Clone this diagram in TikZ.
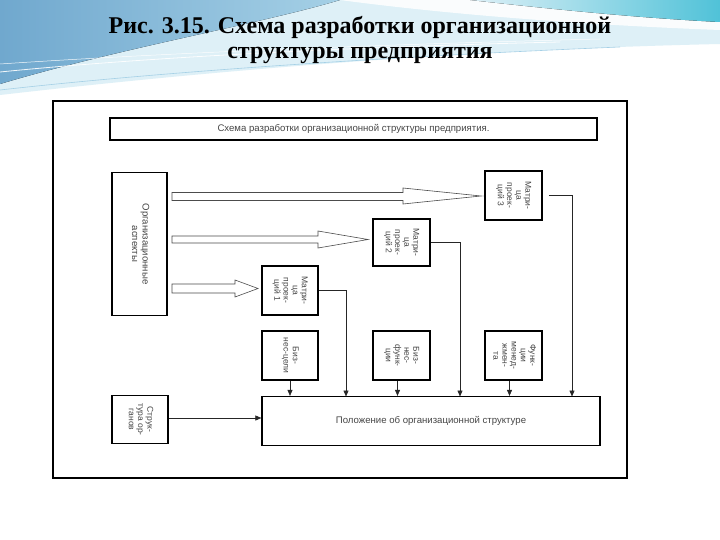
\documentclass[tikz,border=0pt]{standalone}
\usepackage{fontspec}
\usepackage{graphicx}
\setmainfont{Liberation Serif}
\newfontfamily\diagfont{Liberation Sans}
\usetikzlibrary{arrows.meta,calc}
\newcommand{\rottext}[1]{\rotatebox{-90}{\begin{tabular}{@{}c@{}}#1\end{tabular}}}
\definecolor{blueL}{RGB}{112,168,206}
\definecolor{blueM}{RGB}{165,208,230}
\definecolor{paleB}{RGB}{222,240,247}
\definecolor{cyanR}{RGB}{80,194,216}
\definecolor{txt}{RGB}{70,70,70}
\begin{document}
\begin{tikzpicture}[x=1pt,y=-1pt,
  box/.style={draw=black, line width=1.5pt, inner sep=0pt, text=txt,
    font=\diagfont\fontsize{8.5}{9.2}\selectfont},
  conn/.style={draw=black!85, line width=0.6pt},
  tip/.style={-{Triangle[length=6pt,width=5pt]}},
  hollow/.style={draw=black!70, line width=0.6pt, fill=white},
]
\useasboundingbox (0,0) rectangle (720,540);
\fill[white] (0,0) rectangle (720,540);
% slide background swooshes
\fill[paleB] (0,95) .. controls (200,72) and (450,50) .. (720,44) -- (720,0) -- (0,0) -- cycle;
\fill[left color=blueL, right color=blueM] (0,0) -- (340,0) .. controls (260,24) and (120,48) .. (0,84) -- cycle;
\fill[white,opacity=0.85] (340,0) .. controls (430,12) and (560,24) .. (720,30) -- (720,0) -- cycle;
\fill[left color=paleB, right color=cyanR] (470,0) .. controls (560,10) and (640,18) .. (720,22) -- (720,0) -- cycle;
\draw[white,line width=0.8pt,opacity=0.9] (0,72) .. controls (150,57) and (350,47) .. (560,42);
\draw[white,line width=0.5pt,opacity=0.9] (0,64) .. controls (180,52) and (400,44) .. (600,39);
\draw[blueM,line width=0.6pt] (0,90) .. controls (160,72) and (380,57) .. (620,47);
% title
\node[font=\bfseries\fontsize{24}{25}\selectfont, align=center] (title) at (360,40)
  {Рис. 3.15. Схема разработки организационной\\структуры предприятия};
% scanned frame
\draw[line width=1.2pt] (53,101) rectangle (627,478);
\draw[line width=2.4pt] (53,101) -- (627,101);
% boxes
\node[box, minimum width=487pt, minimum height=22pt, font=\diagfont\fontsize{9.6}{10}\selectfont] (top) at (353.5,129)
  {Схема разработки организационной структуры предприятия.};
\node[box, minimum width=55pt, minimum height=143pt, font=\diagfont\fontsize{9.6}{10.5}\selectfont] (org) at (139.5,244)
  {\rottext{Организационные\\аспекты}};
\node[box, minimum width=57pt, minimum height=49pt] (m3) at (513.5,195.5) {\rottext{Матри-\\ца\\проек-\\ций 3}};
\node[box, minimum width=57pt, minimum height=47pt] (m2) at (401.5,242.5) {\rottext{Матри-\\ца\\проек-\\ций 2}};
\node[box, minimum width=56pt, minimum height=49pt] (m1) at (290,290.5) {\rottext{Матри-\\ца\\проек-\\ций 1}};
\node[box, minimum width=56pt, minimum height=49pt] (b1) at (290,355.5) {\rottext{Биз-\\нес-цели}};
\node[box, minimum width=57pt, minimum height=49pt] (b2) at (401.5,355.5) {\rottext{Биз-\\нес-\\функ-\\ции}};
\node[box, minimum width=57pt, minimum height=49pt] (b3) at (513.5,355.5) {\rottext{Функ-\\ции\\менед-\\жмен-\\та}};
\node[box, line width=1.2pt, minimum width=338pt, minimum height=49pt, font=\diagfont\fontsize{9.6}{10}\selectfont] (pol) at (431,421)
  {Положение об организационной структуре};
\node[box, minimum width=56pt, minimum height=48pt] (str) at (140,419.5) {\rottext{Струк-\\тура ор-\\ганов}};
% hollow arrows
\draw[hollow] (172,192.5) -- (403,192.5) -- (403,188) -- (481,196) -- (403,204) -- (403,200.5) -- (172,200.5) -- cycle;
\draw[hollow] (172,236) -- (318,236) -- (318,231) -- (368,239.5) -- (318,248) -- (318,243) -- (172,243) -- cycle;
\draw[hollow] (172,284) -- (235,284) -- (235,280) -- (258,288.5) -- (235,297) -- (235,293) -- (172,293) -- cycle;
% connectors
\coordinate (p1) at (346,396.5);
\coordinate (p2) at (460,396.5);
\coordinate (p3) at (572,396.5);
\draw[conn,tip] (m1.east) -| (p1);
\draw[conn,tip] (m2.east) -| (p2);
\draw[conn,tip] ([xshift=6pt]m3.east) -| (p3);
\draw[conn,tip] (b1.south) -- (b1.south |- pol.north);
\draw[conn,tip] ([xshift=-4pt]b2.south) -- ([xshift=-4pt]b2.south |- pol.north);
\draw[conn,tip] ([xshift=-4pt]b3.south) -- ([xshift=-4pt]b3.south |- pol.north);
\draw[conn,tip] ([yshift=1.5pt]str.east) -- ([yshift=1.5pt]str.east -| pol.west);
\end{tikzpicture}
\end{document}
